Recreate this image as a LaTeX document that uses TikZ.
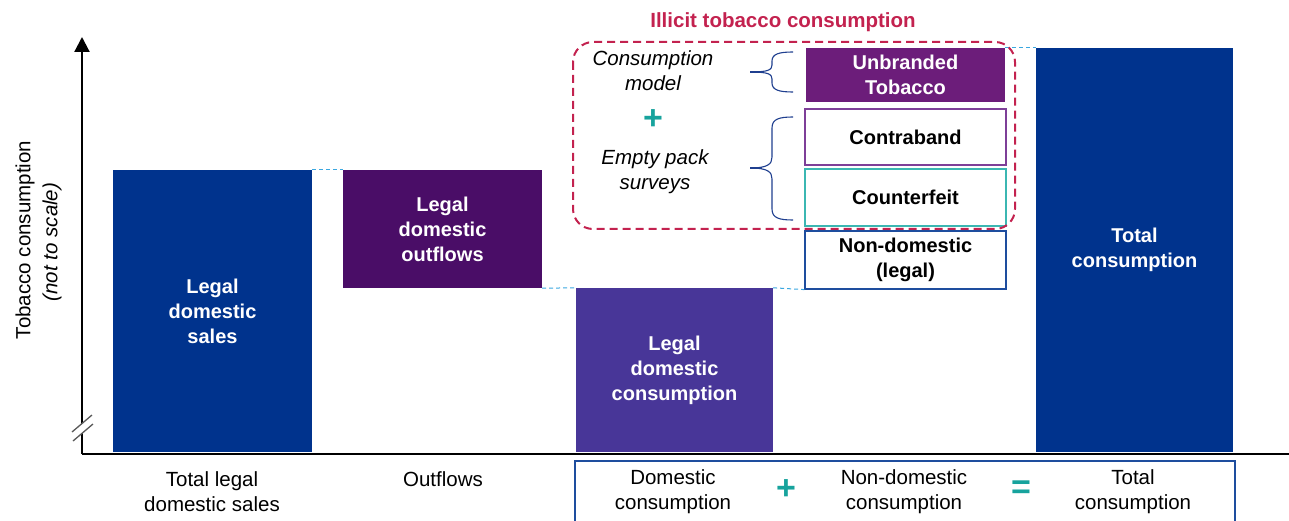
\documentclass[tikz,border=0pt]{standalone}
\usepackage{fontspec}
\setmainfont{Liberation Sans}
\usetikzlibrary{arrows.meta}
\definecolor{darkblue}{HTML}{00338D}
\definecolor{outpurple}{HTML}{4A0D67}
\definecolor{conspurple}{HTML}{483698}
\definecolor{unbrpurple}{HTML}{6C1D7A}
\definecolor{contrapurple}{HTML}{7E3F98}
\definecolor{teal}{HTML}{3BB7B2}
\definecolor{plusteal}{HTML}{17A39D}
\definecolor{boxblue}{HTML}{1E4D9E}
\definecolor{lineblue}{HTML}{3AA7E0}
\definecolor{crimson}{HTML}{C3224F}
\definecolor{braceblue}{HTML}{1F3F8F}
\tikzset{
  bar/.style={draw=none, inner sep=0pt, align=center, text=white, font=\bfseries\fontsize{20}{25}\selectfont},
  obox/.style={draw, line width=1.2pt, fill=white, inner sep=0pt, align=center, font=\bfseries\fontsize{20}{25}\selectfont},
  lbl/.style={align=center, inner sep=0pt, font=\fontsize{20.5}{25}\selectfont},
  ilbl/.style={align=center, inner sep=0pt, font=\itshape\fontsize{20.5}{25}\selectfont},
  conn/.style={draw=lineblue, line width=1pt, dash pattern=on 4pt off 3pt},
  sign/.style={inner sep=0pt, text=plusteal, font=\bfseries\fontsize{34}{34}\selectfont},
  bracestyle/.style={draw=braceblue, line width=1.1pt},
  axisline/.style={draw=black, line width=2.2pt},
}
\begin{document}
\begin{tikzpicture}[x=1pt,y=-1pt]
\useasboundingbox (0,0) rectangle (1289,521);
% axes
\coordinate (O) at (82,454);
\coordinate (Ytop) at (82,37);
\coordinate (Xend) at (1289,454);
\draw[axisline, -{Triangle[width=15pt,length=15pt]}] (O) -- (Ytop);
\draw[axisline] (O) -- (Xend);
% axis break
\draw[white, line width=7pt] (72,437) -- (93,419);
\draw[gray!70!black, line width=1.3pt] (72,432) -- (92,415);
\draw[gray!70!black, line width=1.3pt] (73,441) -- (93,424);
% axis title
\node[lbl, rotate=90] (ytitle) at (25,240) {Tobacco consumption};
\node[ilbl, rotate=90] (ysub) at (52,242) {(not to scale)};
% bars
\node[bar, fill=darkblue, minimum width=199pt, minimum height=282pt] (b1) at (212.5,311) {Legal\\domestic\\sales};
\node[bar, fill=outpurple, minimum width=199pt, minimum height=118pt] (b2) at (442.5,229) {Legal\\domestic\\outflows};
\node[bar, fill=conspurple, minimum width=197pt, minimum height=164pt] (b3) at (674.5,370) {Legal\\domestic\\consumption};
\node[obox, draw=boxblue, minimum width=201pt, minimum height=58pt] (nd) at (905.5,260) {Non-domestic\\(legal)};
\node[obox, draw=teal, minimum width=201pt, minimum height=57pt] (cf) at (905.5,197.5) {Counterfeit};
\node[obox, draw=contrapurple, minimum width=201pt, minimum height=56pt] (cb) at (905.5,137) {Contraband};
\node[bar, fill=unbrpurple, minimum width=199pt, minimum height=54pt] (ub) at (905.5,75) {Unbranded\\Tobacco};
\node[bar, fill=darkblue, minimum width=197pt, minimum height=404pt] (tot) at (1134.5,250) {Total\\consumption};
% dashed links
\draw[conn] (b1.north east) -- (b2.north west);
\draw[conn] (b2.south east) -- (b3.north west);
\draw[conn] (b3.north east) -- (nd.south west);
\draw[conn] (ub.north east) -- (tot.north west);
% illicit region
\node[inner sep=0pt, text=crimson, font=\bfseries\fontsize{20.5}{25}\selectfont] (ititle) at (783,22) {Illicit tobacco consumption};
\draw[crimson, line width=2pt, dash pattern=on 8pt off 5pt, rounded corners=20pt] (573,42) rectangle (1015,229);
\node[ilbl] (cm) at (653,71) {Consumption\\model};
\node[sign] (p1) at (653,120) {+};
\node[ilbl] (eps) at (655,172) {Empty pack\\surveys};
% braces (drawn as paths)
\coordinate (br1t) at (793,52);
\coordinate (br1b) at (793,92);
\coordinate (br1m) at (750,72);
\coordinate (br2t) at (793,117);
\coordinate (br2b) at (793,220);
\coordinate (br2m) at (750,168);
\draw[bracestyle] (br1t) .. controls (779,52) and (772,54) .. (772,61)
  -- (772,65) .. controls (772,70) and (768,72) .. (br1m)
  .. controls (768,72) and (772,74) .. (772,79)
  -- (772,83) .. controls (772,90) and (779,92) .. (br1b);
\draw[bracestyle] (br2t) .. controls (779,117) and (772,119) .. (772,128)
  -- (772,157) .. controls (772,164) and (768,168) .. (br2m)
  .. controls (768,168) and (772,172) .. (772,179)
  -- (772,209) .. controls (772,218) and (779,220) .. (br2b);
\draw[braceblue, line width=2pt] (br1m) -- ++(12,0);
\draw[braceblue, line width=2pt] (br2m) -- ++(12,0);
% bottom box and labels
\draw[boxblue, line width=2pt] (575,523) -- (575,461) -- (1235,461) -- (1235,523);
\node[lbl] (l1) at (212,492) {Total legal\\domestic sales};
\node[lbl] (l2) at (443,479) {Outflows};
\node[lbl] (l3) at (673,492) {Domestic\\consumption};
\node[sign] (p2) at (786,490) {+};
\node[lbl] (l4) at (904,492) {Non-domestic\\consumption};
\node[sign] (eq) at (1021,490) {=};
\node[lbl] (l5) at (1133,492) {Total\\consumption};
\end{tikzpicture}
\end{document}
